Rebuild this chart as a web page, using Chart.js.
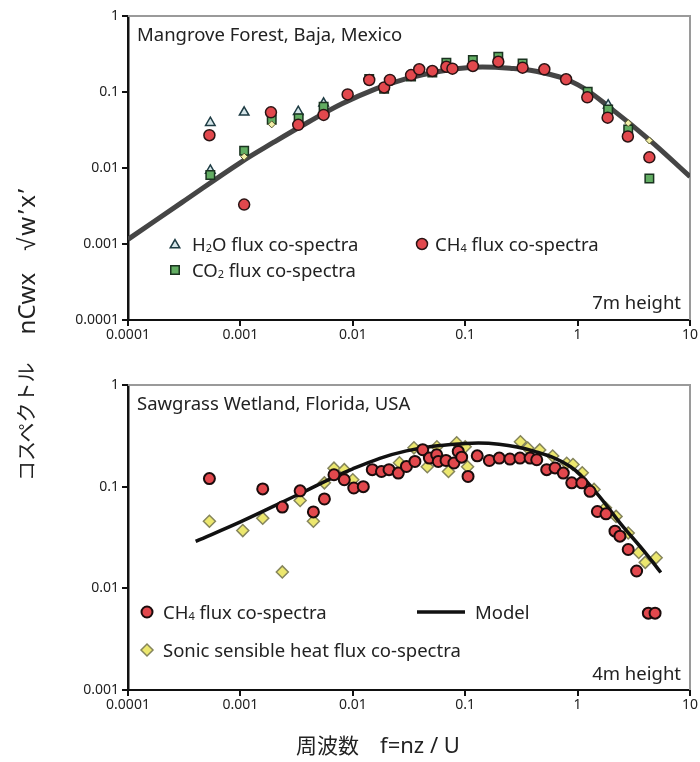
<!DOCTYPE html>
<html>
<head>
<meta charset="utf-8">
<script src="https://cdn.jsdelivr.net/npm/chart.js"></script>
<style>
  body { margin:0; background:#fff; width:700px; height:762px; position:relative; overflow:hidden; }
  canvas { position:absolute; left:0; }
  #topChart { top:0; }
  #bottomChart { top:365px; }
  #ytitle {
    position:absolute; left:-125px; top:316px; width:300px; height:30px;
    transform:rotate(-90deg); transform-origin:center;
    display:flex; align-items:center; white-space:nowrap;
    font:20px "Noto Sans CJK JP", "Noto Sans", sans-serif; color:#222;
  }
  #ytitle .lat { font:24px "Noto Sans", sans-serif; }
  #xtitle {
    position:absolute; left:228px; top:729px; width:300px; text-align:center;
    font:21px "Noto Sans CJK JP", "Noto Sans", sans-serif; color:#222;
  }
  #xtitle .lat { font:22px "Noto Sans", sans-serif; }
</style>
</head>
<body>
<canvas id="topChart" width="700" height="345"></canvas>
<canvas id="bottomChart" width="700" height="380"></canvas>
<div id="ytitle"><span>コスペクトル</span><span class="lat" style="margin-left:28px">nCwx</span><span class="lat" style="margin-left:22px;letter-spacing:2px">√w’x’</span></div>
<div id="xtitle">周波数　<span class="lat">f=nz / U</span></div>
<script>
// axis ticks
var xTickValues = [0.0001, 0.001, 0.01, 0.1, 1, 10];
var xTickLabels = ['0.0001', '0.001', '0.01', '0.1', '1', '10'];
var topYTicks = [0.0001, 0.001, 0.01, 0.1, 1];
var topYLabels = ['0.0001', '0.001', '0.01', '0.1', '1'];
var bottomYTicks = [0.001, 0.01, 0.1, 1];
var bottomYLabels = ['0.001', '0.01', '0.1', '1'];

// Mangrove Forest (7m)
var mgCh4F = [0.00053, 0.00108, 0.00187, 0.00327, 0.0055, 0.009, 0.014, 0.019, 0.0214, 0.033, 0.039, 0.051, 0.068, 0.077, 0.117, 0.197, 0.324, 0.506, 0.79, 1.22, 1.85, 2.8, 4.35];
var mgCh4V = [0.027, 0.0033, 0.054, 0.037, 0.050, 0.093, 0.144, 0.115, 0.144, 0.167, 0.199, 0.189, 0.215, 0.203, 0.22, 0.25, 0.209, 0.199, 0.147, 0.085, 0.046, 0.026, 0.0138];
var mgCo2F = [0.00054, 0.00108, 0.0019, 0.0033, 0.0055, 0.014, 0.019, 0.033, 0.051, 0.068, 0.117, 0.197, 0.324, 1.23, 1.87, 2.82, 4.35];
var mgCo2V = [0.0081, 0.0169, 0.043, 0.045, 0.064, 0.148, 0.11, 0.16, 0.18, 0.243, 0.264, 0.29, 0.238, 0.101, 0.059, 0.032, 0.0073];
var mgH2oF = [0.00054, 0.00054, 0.00108, 0.00327, 0.0055, 1.87];
var mgH2oV = [0.0395, 0.0093, 0.054, 0.055, 0.071, 0.067];
var mgSonicF = [0.00108, 0.0019, 2.82, 4.35];
var mgSonicV = [0.0141, 0.0375, 0.039, 0.023];
var mgModelF = [0.0001, 0.0003, 0.001, 0.002, 0.004, 0.008, 0.016, 0.03, 0.06, 0.12, 0.25, 0.5, 1, 2, 4.35, 10];
var mgModelV = [0.00115, 0.0035, 0.0118, 0.022, 0.040, 0.070, 0.110, 0.150, 0.188, 0.212, 0.205, 0.178, 0.125, 0.060, 0.0235, 0.0077];

// Sawgrass Wetland (4m)
var swCh4F = [0.00053, 0.00158, 0.00236, 0.0034, 0.00446, 0.00559, 0.0068, 0.0084, 0.0102, 0.0124, 0.0149, 0.018, 0.021, 0.0254, 0.030, 0.0357, 0.0419, 0.048, 0.0558, 0.0576, 0.0675, 0.0794, 0.0867, 0.093, 0.106, 0.128, 0.164, 0.201, 0.25, 0.307, 0.378, 0.433, 0.531, 0.63, 0.746, 0.887, 1.09, 1.29, 1.5, 1.79, 2.15, 2.38, 2.82, 3.35, 4.26, 4.89];
var swCh4V = [0.12, 0.095, 0.063, 0.091, 0.0565, 0.0757, 0.131, 0.117, 0.097, 0.1, 0.147, 0.141, 0.147, 0.136, 0.158, 0.177, 0.231, 0.191, 0.206, 0.177, 0.181, 0.171, 0.222, 0.195, 0.126, 0.201, 0.181, 0.191, 0.187, 0.191, 0.191, 0.184, 0.147, 0.153, 0.136, 0.109, 0.109, 0.09, 0.057, 0.054, 0.0365, 0.0326, 0.0241, 0.0148, 0.0057, 0.0057];
var swSonicF = [0.00053, 0.00105, 0.00158, 0.00236, 0.0034, 0.00446, 0.00559, 0.0068, 0.0084, 0.01, 0.026, 0.035, 0.046, 0.056, 0.071, 0.084, 0.1, 0.105, 0.31, 0.36, 0.46, 0.6, 0.8, 0.91, 1.1, 1.4, 1.77, 2.2, 2.82, 3.5, 4.0, 5.0];
var swSonicV = [0.0457, 0.037, 0.049, 0.0145, 0.073, 0.0457, 0.109, 0.152, 0.147, 0.117, 0.172, 0.241, 0.157, 0.247, 0.141, 0.27, 0.247, 0.157, 0.276, 0.24, 0.23, 0.2, 0.17, 0.165, 0.137, 0.094, 0.062, 0.051, 0.035, 0.0225, 0.018, 0.02];
var swModelF = [0.0004, 0.001, 0.003, 0.01, 0.03, 0.1, 0.2, 0.4, 0.86, 1.47, 2.38, 3.9, 5.5];
var swModelV = [0.029, 0.045, 0.080, 0.150, 0.225, 0.266, 0.262, 0.225, 0.158, 0.087, 0.044, 0.0232, 0.0143];

function pts(fs, vs) {
    return fs.map(function (f, i) { return { x: f, y: vs[i] }; });
}

var FONT = '"Noto Sans", sans-serif';
var NOTE_SIZE = 18.5;

function drawRich(ctx, x, y, parts, size, align) {
    var w = 0;
    parts.forEach(function (p) {
        ctx.font = (p[1] ? Math.round(size * 0.62) : size) + 'px ' + FONT;
        w += ctx.measureText(p[0]).width;
    });
    var cx = align === 'right' ? x - w : x;
    ctx.textAlign = 'left';
    ctx.textBaseline = 'alphabetic';
    parts.forEach(function (p) {
        ctx.font = (p[1] ? Math.round(size * 0.62) : size) + 'px ' + FONT;
        ctx.fillText(p[0], cx, y + size * 0.36 + (p[1] ? 1 : 0));
        cx += ctx.measureText(p[0]).width;
    });
}

var notes = {
    id: 'notes',
    beforeDatasetsDraw: function (chart) {
        var a = chart.chartArea, ctx = chart.ctx;
        ctx.save();
        ctx.strokeStyle = '#9a9a9a';
        ctx.lineWidth = 2;
        ctx.beginPath();
        ctx.moveTo(a.left, a.top);
        ctx.lineTo(a.right, a.top);
        ctx.lineTo(a.right, a.bottom);
        ctx.stroke();
        ctx.restore();
    },
    afterDatasetsDraw: function (chart, args, opts) {
        var ctx = chart.ctx;
        ctx.save();
        (opts.texts || []).forEach(function (t) {
            ctx.fillStyle = '#222';
            drawRich(ctx, t.x, t.y, t.parts, NOTE_SIZE, t.align);
        });
        (opts.marks || []).forEach(function (m) {
            var ds = chart.data.datasets[m.ds];
            if (m.line) {
                ctx.strokeStyle = ds.borderColor;
                ctx.lineWidth = ds.borderWidth;
                ctx.beginPath();
                ctx.moveTo(m.x, m.y);
                ctx.lineTo(m.x2, m.y);
                ctx.stroke();
                return;
            }
            ctx.fillStyle = ds.backgroundColor;
            ctx.strokeStyle = ds.borderColor;
            ctx.lineWidth = ds.borderWidth;
            Chart.helpers.drawPoint(ctx, {
                pointStyle: ds.pointStyle, radius: ds.pointRadius,
                borderWidth: ds.borderWidth, rotation: 0
            }, m.x, m.y);
        });
        ctx.restore();
    }
};

function axes(yMin, yTicks, yLabels, xHeight) {
    return {
        x: {
            type: 'logarithmic', min: 0.0001, max: 10,
            border: { color: '#111', width: 2 },
            grid: { drawOnChartArea: false, color: '#111', lineWidth: 2, tickLength: 6 },
            ticks: {
                color: '#222', font: { family: FONT, size: 14 }, maxRotation: 0, autoSkip: false, padding: 1,
                callback: function (v, i) { return xTickLabels[i]; }
            },
            afterBuildTicks: function (s) { s.ticks = xTickValues.map(function (v) { return { value: v }; }); },
            afterFit: function (s) { s.height = xHeight; }
        },
        y: {
            type: 'logarithmic', min: yMin, max: 1,
            border: { color: '#111', width: 2.5 },
            grid: { drawOnChartArea: false, color: '#111', lineWidth: 2, tickLength: 6 },
            ticks: {
                color: '#222', font: { family: FONT, size: 14 }, autoSkip: false, padding: 3,
                callback: function (v, i) { return yLabels[i]; }
            },
            afterBuildTicks: function (s) { s.ticks = yTicks.map(function (v) { return { value: v }; }); },
            afterFit: function (s) { s.width = 128; }
        }
    };
}

var base = {
    responsive: false,
    devicePixelRatio: 1,
    animation: false,
    plugins: { legend: { display: false }, tooltip: { enabled: false } }
};

new Chart(document.getElementById('topChart'), {
    type: 'scatter',
    data: {
        datasets: [
            { label: 'CH4 flux co-spectra', data: pts(mgCh4F, mgCh4V), pointStyle: 'circle', pointRadius: 5.5,
              backgroundColor: '#e2484d', borderColor: '#2a1414', borderWidth: 1.5 },
            { label: 'sonic', data: pts(mgSonicF, mgSonicV), pointStyle: 'rectRot', pointRadius: 3.5,
              backgroundColor: '#f2efa8', borderColor: '#55552a', borderWidth: 1 },
            { label: 'CO2 flux co-spectra', data: pts(mgCo2F, mgCo2V), pointStyle: 'rect', pointRadius: 6,
              backgroundColor: '#62ad62', borderColor: '#1a3320', borderWidth: 1.5 },
            { label: 'H2O flux co-spectra', data: pts(mgH2oF, mgH2oV), pointStyle: 'triangle', pointRadius: 5.5,
              backgroundColor: '#d6e6ea', borderColor: '#1e3c44', borderWidth: 1.5 },
            { label: 'Model', data: pts(mgModelF, mgModelV), showLine: true, pointRadius: 0,
              borderColor: '#454545', borderWidth: 5, tension: 0.4 }
        ]
    },
    options: Object.assign({}, base, {
        layout: { padding: { left: 0, right: 10, top: 16, bottom: 0 } },
        scales: axes(0.0001, topYTicks, topYLabels, 25),
        plugins: Object.assign({}, base.plugins, {
            notes: {
                texts: [
                    { x: 137, y: 34, parts: [['Mangrove Forest, Baja, Mexico']] },
                    { x: 681, y: 302, align: 'right', parts: [['7m height']] },
                    { x: 192, y: 244, parts: [['H'], ['2', true], ['O flux co-spectra']] },
                    { x: 192, y: 270, parts: [['CO'], ['2', true], [' flux co-spectra']] },
                    { x: 435, y: 244, parts: [['CH'], ['4', true], [' flux co-spectra']] }
                ],
                marks: [
                    { x: 175, y: 245, ds: 3 },
                    { x: 175, y: 270, ds: 2 },
                    { x: 422, y: 244, ds: 0 }
                ]
            }
        })
    }),
    plugins: [notes]
});

new Chart(document.getElementById('bottomChart'), {
    type: 'scatter',
    data: {
        datasets: [
            { label: 'CH4 flux co-spectra', data: pts(swCh4F, swCh4V), pointStyle: 'circle', pointRadius: 5.5,
              backgroundColor: '#e2484d', borderColor: '#1a0c0c', borderWidth: 2 },
            { label: 'Model', data: pts(swModelF, swModelV), showLine: true, pointRadius: 0,
              borderColor: '#111', borderWidth: 3.5, tension: 0.4 },
            { label: 'Sonic sensible heat flux co-spectra', data: pts(swSonicF, swSonicV), pointStyle: 'rectRot', pointRadius: 6,
              backgroundColor: '#ece76e', borderColor: '#85855c', borderWidth: 1.5 }
        ]
    },
    options: Object.assign({}, base, {
        layout: { padding: { left: 0, right: 10, top: 20, bottom: 0 } },
        scales: axes(0.001, bottomYTicks, bottomYLabels, 55),
        plugins: Object.assign({}, base.plugins, {
            notes: {
                texts: [
                    { x: 137, y: 38, parts: [['Sawgrass Wetland, Florida, USA']] },
                    { x: 681, y: 308, align: 'right', parts: [['4m height']] },
                    { x: 163, y: 247, parts: [['CH'], ['4', true], [' flux co-spectra']] },
                    { x: 163, y: 285, parts: [['Sonic sensible heat flux co-spectra']] },
                    { x: 475, y: 247, parts: [['Model']] }
                ],
                marks: [
                    { x: 147, y: 247, ds: 0 },
                    { x: 147, y: 285, ds: 2 },
                    { x: 417, x2: 465, y: 247, ds: 1, line: true }
                ]
            }
        })
    }),
    plugins: [notes]
});
</script>
</body>
</html>
